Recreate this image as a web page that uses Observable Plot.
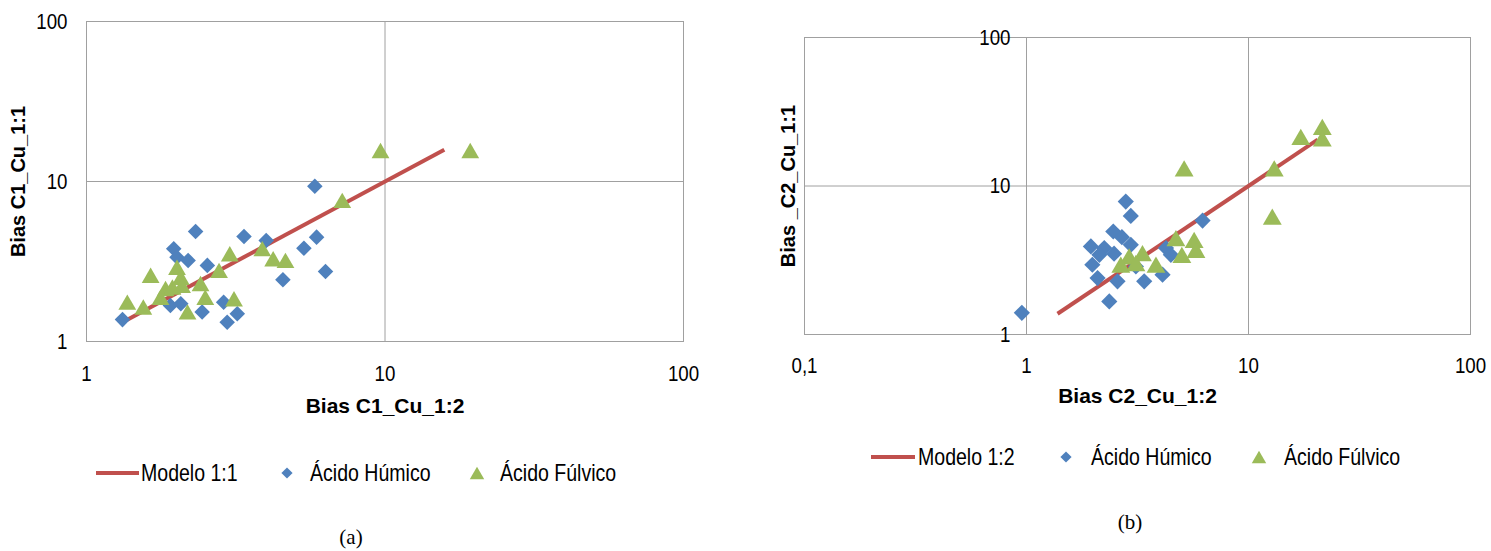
<!DOCTYPE html>
<html>
<head>
<meta charset="utf-8">
<script src="https://cdn.jsdelivr.net/npm/d3@7"></script>
<script src="https://cdn.jsdelivr.net/npm/@observablehq/plot@0.6"></script>
<style>
html, body { margin: 0; padding: 0; background: #fff; }
#wrap { position: relative; width: 1491px; height: 551px; overflow: hidden; background: #fff; }
#wrap > svg { position: absolute; top: 0; max-width: none !important; }
</style>
</head>
<body>
<div id="wrap"></div>
<script>
// ---------- data ----------
const seriesNames = ["Ácido Húmico", "Ácido Fúlvico"];
const modelNameA = "Modelo 1:1";
const modelNameB = "Modelo 1:2";

// Panel (a)
const xTitleA = "Bias C1_Cu_1:2";
const yTitleA = "Bias C1_Cu_1:1";
const ticksA = [1, 10, 100];
const lineA = [1.35, 15.8];
const humicoAx = [1.32, 2.32, 1.96, 2.01, 2.19, 2.54, 3.37, 4.00, 5.35, 5.90, 5.82, 6.32, 4.55, 1.91, 2.07, 2.44, 2.88, 2.96, 3.20];
const humicoAy = [1.37, 4.87, 3.80, 3.36, 3.21, 2.99, 4.53, 4.28, 3.83, 4.49, 9.35, 2.74, 2.43, 1.68, 1.72, 1.53, 1.76, 1.32, 1.49];
const fulvicoAx = [1.37, 1.55, 1.64, 1.77, 1.84, 1.94, 2.01, 2.07, 2.09, 2.18, 2.41, 2.50, 2.78, 3.02, 3.12, 3.88, 4.22, 4.64, 7.19, 9.66, 19.3];
const fulvicoAy = [1.76, 1.64, 2.59, 1.89, 2.14, 2.19, 2.91, 2.52, 2.24, 1.53, 2.30, 1.89, 2.78, 3.53, 1.85, 3.80, 3.29, 3.21, 7.61, 15.6, 15.6];

// Panel (b)
const xTitleB = "Bias C2_Cu_1:2";
const yTitleB = "Bias _C2_Cu_1:1";
const xTicksB = [0.1, 1, 10, 100];
const yTicksB = [1, 10, 100];
const lineB = [1.38, 20.5];
const humicoBx = [0.953, 2.80, 2.95, 2.46, 2.69, 2.95, 1.95, 2.24, 2.13, 2.48, 1.98, 2.09, 2.57, 2.36, 3.39, 4.10, 4.25, 4.47, 6.21, 3.11];
const humicoBy = [1.40, 7.85, 6.29, 4.94, 4.52, 4.02, 3.92, 3.82, 3.44, 3.50, 2.95, 2.40, 2.28, 1.67, 2.28, 2.53, 3.82, 3.44, 5.85, 2.87];
const fulvicoBx = [5.13, 13.06, 12.8, 17.2, 21.5, 21.5, 4.71, 5.69, 5.80, 5.01, 3.83, 3.33, 2.90, 2.66, 3.11];
const fulvicoBy = [13.15, 13.15, 6.22, 21.4, 25.0, 20.9, 4.46, 4.34, 3.72, 3.44, 2.95, 3.53, 3.36, 2.95, 3.03];

// ---------- styles ----------
const blue = "#4f81bd", green = "#9bbb59", red = "#c0504d", grid = "#a0a0a0";
const font = "'Liberation Sans', Arial, sans-serif";
const squeeze = 0.85; // the reference's text is horizontally condensed
const fmt = d => String(d).replace(".", ",");
const pts = (xs, ys) => xs.map((x, i) => ({x, y: ys[i]}));

function condense(root, selector) {
  root.querySelectorAll(selector).forEach(el => {
    const t = el.getAttribute("transform");
    if (t) {
      el.setAttribute("transform", t + ` scale(${squeeze},1)`);
    } else {
      const x = +(el.getAttribute("x") || 0), y = +(el.getAttribute("y") || 0);
      el.setAttribute("transform", `translate(${x},${y}) scale(${squeeze},1) translate(${-x},${-y})`);
    }
  });
}

const wrap = document.getElementById("wrap");

const plotA = Plot.plot({
  width: 720, height: 430,
  marginLeft: 86, marginRight: 37, marginTop: 21, marginBottom: 89,
  style: {fontFamily: font, fontSize: "22px", color: "#000", background: "transparent", overflow: "visible"},
  x: {type: "log", domain: [1, 100]},
  y: {type: "log", domain: [1, 100]},
  marks: [
    Plot.ruleX([10], {stroke: grid, strokeWidth: 1}),
    Plot.ruleY([10], {stroke: grid, strokeWidth: 1}),
    Plot.frame({stroke: grid, strokeWidth: 1}),
    Plot.axisX({ticks: ticksA, tickFormat: fmt, tickSize: 0, tickPadding: 24, label: null}),
    Plot.axisY({ticks: ticksA, tickFormat: fmt, tickSize: 0, tickPadding: 19, label: null}),
    Plot.line(lineA, {x: d => d, y: d => d, stroke: red, strokeWidth: 4, strokeLinecap: "butt"}),
    Plot.dot(pts(humicoAx, humicoAy), {x: "x", y: "y", symbol: "diamond2", r: 7, fill: blue}),
    Plot.dot(pts(fulvicoAx, fulvicoAy), {x: "x", y: "y", symbol: "triangle2", r: 8.5, fill: green, dy: 2.5}),
    Plot.text([xTitleA], {text: d => d, frameAnchor: "bottom", textAnchor: "middle", dy: 71, fontWeight: "bold", fontSize: 21, ariaLabel: "xtitle"}),
    Plot.text([yTitleA], {text: d => d, frameAnchor: "left", textAnchor: "middle", dx: -68, rotate: -90, fontWeight: "bold", fontSize: 20})
  ]
});
plotA.style.left = "0px";
condense(plotA, 'g[aria-label$="tick label"] text, g[aria-label="xtitle"] text');
wrap.appendChild(plotA);

const plotB = Plot.plot({
  width: 731, height: 420,
  marginLeft: 44, marginRight: 21, marginTop: 37, marginBottom: 86,
  style: {fontFamily: font, fontSize: "22px", color: "#000", background: "transparent", overflow: "visible"},
  x: {type: "log", domain: [0.1, 100]},
  y: {type: "log", domain: [1, 100]},
  marks: [
    Plot.ruleX([1, 10], {stroke: grid, strokeWidth: 1}),
    Plot.ruleY([10], {stroke: grid, strokeWidth: 1}),
    Plot.frame({stroke: grid, strokeWidth: 1}),
    Plot.axisX({ticks: xTicksB, tickFormat: fmt, tickSize: 0, tickPadding: 23, label: null}),
    Plot.axisY({anchor: "left", ticks: yTicksB, tickFormat: fmt, tickSize: 0, tickPadding: 0, dx: 206, label: null}),
    Plot.line(lineB, {x: d => d, y: d => d, stroke: red, strokeWidth: 4, strokeLinecap: "butt"}),
    Plot.dot(pts(humicoBx, humicoBy), {x: "x", y: "y", symbol: "diamond2", r: 7.3, fill: blue}),
    Plot.dot(pts(fulvicoBx, fulvicoBy), {x: "x", y: "y", symbol: "triangle2", r: 9, fill: green, dy: 2.7}),
    Plot.text([xTitleB], {text: d => d, frameAnchor: "bottom", textAnchor: "middle", dy: 68, fontWeight: "bold", fontSize: 21, ariaLabel: "xtitle"}),
    Plot.text([yTitleB], {text: d => d, frameAnchor: "left", textAnchor: "middle", dx: -16, rotate: -90, fontWeight: "bold", fontSize: 20})
  ]
});
plotB.style.left = "760px";
condense(plotB, 'g[aria-label$="tick label"] text, g[aria-label="xtitle"] text');
wrap.appendChild(plotB);

// ---------- legends and captions ----------
const svg = d3.select(wrap).append("svg")
  .attr("width", 1491).attr("height", 551)
  .style("left", "0px")
  .attr("font-family", font).attr("font-size", 23);

function legend(y, x0, lineLen, model, xs) {
  const g = svg.append("g");
  g.append("line").attr("x1", x0).attr("x2", x0 + lineLen).attr("y1", y).attr("y2", y)
    .attr("stroke", red).attr("stroke-width", 4);
  const label = (x, s) => g.append("text")
    .attr("transform", `translate(${x},${y}) scale(${squeeze},1)`)
    .attr("dy", "0.35em").text(s);
  label(xs[0], model);
  g.append("path").attr("transform", `translate(${xs[1]},${y})`)
    .attr("d", d3.symbol(d3.symbolDiamond2, 80)()).attr("fill", blue);
  label(xs[2], seriesNames[0]);
  g.append("path").attr("transform", `translate(${xs[3]},${y + 2})`)
    .attr("d", d3.symbol(d3.symbolTriangle2, 150)()).attr("fill", green);
  label(xs[4], seriesNames[1]);
}
legend(473, 96, 43, modelNameA, [141, 287, 310, 477, 500]);
legend(457, 871, 44, modelNameB, [918, 1066, 1091, 1259, 1284]);

svg.append("text").attr("x", 351).attr("y", 537).attr("dy", "0.35em").attr("text-anchor", "middle")
  .attr("font-family", "'Liberation Serif', 'Times New Roman', serif").attr("font-size", 21).text("(a)");
svg.append("text").attr("x", 1130).attr("y", 522).attr("dy", "0.35em").attr("text-anchor", "middle")
  .attr("font-family", "'Liberation Serif', 'Times New Roman', serif").attr("font-size", 21).text("(b)");
</script>
</body>
</html>
